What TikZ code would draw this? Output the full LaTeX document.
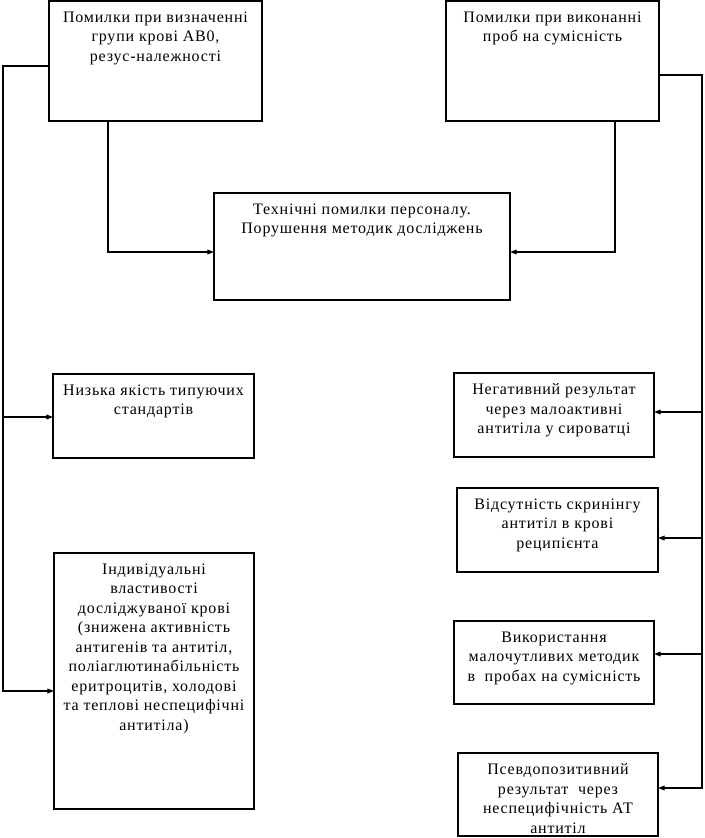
\documentclass[tikz,border=0pt]{standalone}
\usepackage{fontspec}
\setmainfont{Liberation Serif}[LetterSpace=5]
\usetikzlibrary{arrows.meta}
\newlength\pxu
\setlength\pxu{0.75pt}
\newcommand{\bxt}[3]{\parbox[c][#2\pxu][t]{#1\pxu}{\centering\vspace*{8pt}#3\par}}
\begin{document}
\begin{tikzpicture}[x=0.75pt,y=-0.75pt,
  box/.style={draw, line width=0.8pt, inner sep=0pt, outer sep=0pt, font=\fontsize{12pt}{14.6pt}\selectfont},
  conn/.style={line width=0.8pt},
  arr/.style={conn, -{Triangle[length=5pt,width=3.6pt]}}]
\useasboundingbox (0,0) rectangle (705,838);
\node[box] (A) at (155.5,61) {\bxt{213}{120}{Помилки при визначенні\\групи крові АВ0,\\резус-належності}};
\node[box] (B) at (552.5,61) {\bxt{213}{120}{Помилки при виконанні\\проб на сумісність}};
\node[box] (C) at (362,246.5) {\bxt{296}{107}{Технічні помилки персоналу.\\Порушення методик досліджень}};
\node[box] (D) at (153.5,416) {\bxt{201}{84}{Низька якість типуючих\\стандартів}};
\node[box] (F) at (154,681) {\bxt{200}{256}{Індивідуальні\\властивості\\досліджуваної крові\\(знижена активність\\антигенів та антитіл,\\поліаглютинабільність\\еритроцитів, холодові\\та теплові неспецифічні\\антитіла)}};
\node[box] (G) at (554,415) {\bxt{200}{84}{Негативний результат\\через малоактивні\\антитіла у сироватці}};
\node[box] (H) at (557.5,530) {\bxt{201}{84}{Відсутність скринінгу\\антитіл в крові\\реципієнта}};
\node[box] (I) at (554,662.5) {\bxt{200}{83}{Використання\\малочутливих методик\\в\ \ пробах на сумісність}};
\node[box] (J) at (558,794.5) {\bxt{200}{83}{Псевдопозитивний\\результат\ \ через\hspace*{38pt}\\неспецифічність АТ\\антитіл}};
% left trunk
\coordinate (lt) at (3,66);
\coordinate (lb) at (3,691);
\draw[arr] (A.west |- lt) -- (lt) -- (lb) -- (F.west |- lb);
\draw[arr] (lt |- 0,417) -- (D.west |- 0,417);
% top-left to C
\coordinate (ab) at (108,252);
\draw[arr] (A.south -| ab) -- (ab) -- (C.west |- ab);
% top-right to C
\coordinate (bb) at (615,252);
\draw[arr] (B.south -| bb) -- (bb) -- (C.east |- bb);
% right trunk
\coordinate (rt) at (702,75);
\coordinate (rb) at (702,788);
\draw[arr] (B.east |- rt) -- (rt) -- (rb) -- (J.east |- rb);
\coordinate (rg) at (702,412);
\coordinate (rh) at (702,538);
\coordinate (ri) at (702,654);
\draw[arr] (rg) -- (G.east |- rg);
\draw[arr] (rh) -- (H.east |- rh);
\draw[arr] (ri) -- (I.east |- ri);
\end{tikzpicture}
\end{document}
